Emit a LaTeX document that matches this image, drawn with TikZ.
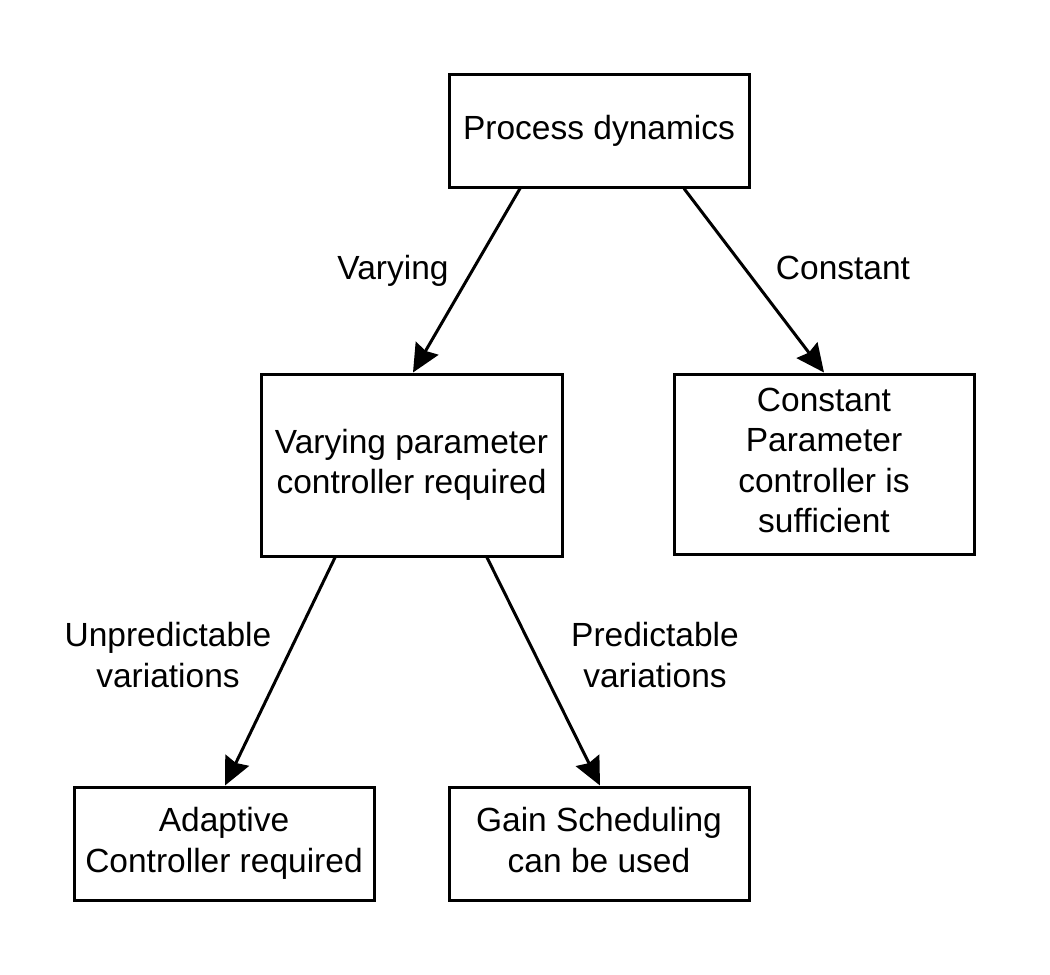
\documentclass[tikz,border=0pt]{standalone}
\usepackage{fontspec}
\setmainfont{Liberation Sans}
\usetikzlibrary{arrows.meta,calc}
\begin{document}
\begin{tikzpicture}[x=1pt,y=-1pt,
  box/.style={draw,line width=3pt,align=center,inner sep=0pt,
    font=\fontsize{33.5}{40.5}\selectfont},
  lbl/.style={align=center,inner sep=0pt,font=\fontsize{33.5}{40.5}\selectfont},
  arr/.style={line width=3pt,-{Stealth[length=28pt,width=26pt,inset=3pt]}}]
\useasboundingbox (0,0) rectangle (1050,975);
\node[box,minimum width=300pt,minimum height=113pt] (P) at (599,130.5) {Process dynamics};
\node[box,minimum width=301pt,minimum height=182pt] (V) at (411.5,465) {Varying parameter\\controller required};
\node[box,minimum width=300pt,minimum height=180pt,text depth=7pt] (C) at (824,464) {Constant\\Parameter\\controller is\\sufficient};
\node[box,minimum width=300pt,minimum height=113pt] (A) at (224,843.5) {Adaptive\\Controller required};
\node[box,minimum width=300pt,minimum height=113pt,text depth=7pt] (G) at (599,843.5) {Gain Scheduling\\can be used};
\draw[arr] ($(P.south)+(-79,0)$) -- ($(V.north)+(1.5,0)$);
\draw[arr] ($(P.south)+(85,0)$) -- (C.north);
\draw[arr] ($(V.south)+(-76.5,0)$) -- ($(A.north)+(1,0)$);
\draw[arr] ($(V.south)+(75.5,0)$) -- ($(G.north)+(1,0)$);
\node[lbl] (lv) at (393,271) {Varying};
\node[lbl] (lc) at (843,268) {Constant};
\node[lbl] (lu) at (168,655) {Unpredictable\\variations};
\node[lbl] (lp) at (655,655) {Predictable\\variations};
\end{tikzpicture}
\end{document}
